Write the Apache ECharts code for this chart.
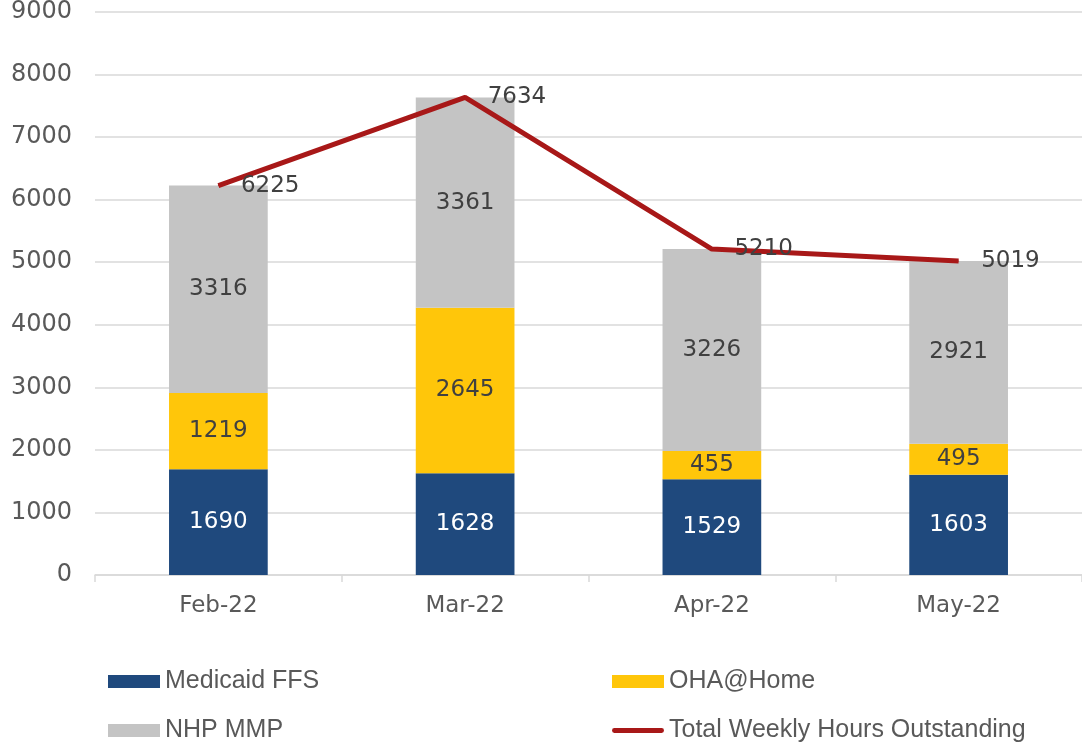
<!DOCTYPE html>
<html><head><meta charset="utf-8">
<script src="https://cdn.jsdelivr.net/npm/echarts@6/dist/echarts.min.js"></script>
<style>html,body{margin:0;padding:0;background:#fff}#c{width:1082px;height:744px}</style>
</head><body><div id="c"></div>
<script>
const categories = ['Feb-22','Mar-22','Apr-22','May-22'];
const medicaidFFS = [1690,1628,1529,1603];
const ohaHome = [1219,2645,455,495];
const nhpMMP = [3316,3361,3226,2921];
const totalOutstanding = [6225,7634,5210,5019];
const yTicks = [0,1000,2000,3000,4000,5000,6000,7000,8000,9000];

const FONT = '"DejaVu Sans", sans-serif';
const LEGFONT = '"Liberation Sans", Arial, sans-serif';
const chart = echarts.init(document.getElementById('c'));
const barLabel = (color) => ({show:true, position:'inside', color, fontFamily:FONT, fontSize:23});
const legendBase = {itemWidth:52, itemHeight:13, itemGap:5, icon:'rect', textStyle:{fontFamily:LEGFONT, fontSize:25, color:'#595959'}, selectedMode:false};
chart.setOption({
  animation:false,
  grid:{left:95, top:11, width:992, bottom:169, containLabel:false},
  legend:[
    Object.assign({}, legendBase, {data:['Medicaid FFS'], left:103, top:664}),
    Object.assign({}, legendBase, {data:['OHA@Home'], left:607, top:664}),
    Object.assign({}, legendBase, {data:['NHP MMP'], left:103, top:713}),
    Object.assign({}, legendBase, {data:[{name:'Total Weekly Hours Outstanding', icon:'path://M2,0 L50,0 A2.5,2.5 0 0 1 50,5 L2,5 A2.5,2.5 0 0 1 2,0 Z'}], left:607, top:713, itemHeight:6})
  ],
  xAxis:{type:'category', data:categories, boundaryGap:true,
    axisLine:{lineStyle:{color:'#D9D9D9', width:1.5}},
    axisTick:{show:true, length:7, lineStyle:{color:'#D9D9D9', width:1.5}},
    axisLabel:{color:'#595959', fontFamily:FONT, fontSize:23, margin:20}},
  yAxis:{type:'value', min:0, max:9000, interval:1000,
    axisLine:{show:false}, axisTick:{show:false},
    splitLine:{lineStyle:{color:'#D9D9D9', width:1.5}},
    axisLabel:{color:'#595959', fontFamily:FONT, fontSize:24, margin:23,
      formatter:(v)=> yTicks.includes(v) ? String(v) : ''}},
  series:[
    {name:'Medicaid FFS', type:'bar', stack:'a', data:medicaidFFS, barWidth:'40%', itemStyle:{color:'#1F497D'}, label:barLabel('#FFFFFF')},
    {name:'OHA@Home', type:'bar', stack:'a', data:ohaHome, itemStyle:{color:'#FFC60A'}, label:barLabel('#404040')},
    {name:'NHP MMP', type:'bar', stack:'a', data:nhpMMP, itemStyle:{color:'#C4C4C4'}, label:barLabel('#404040')},
    {name:'Total Weekly Hours Outstanding', type:'line', data:totalOutstanding, symbol:'circle', symbolSize:1, showSymbol:true,
      lineStyle:{color:'#A81818', width:5}, itemStyle:{color:'#A81818'},
      label:{show:true, position:'right', distance:22, color:'#404040', fontFamily:FONT, fontSize:23}}
  ]
});
</script></body></html>
